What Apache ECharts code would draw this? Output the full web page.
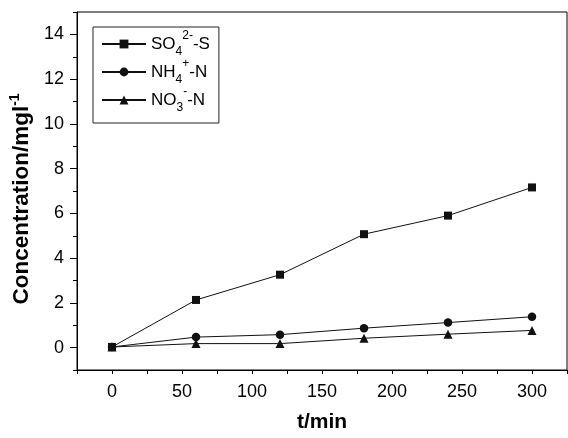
<!DOCTYPE html>
<html>
<head>
<meta charset="utf-8">
<script src="https://cdn.jsdelivr.net/npm/echarts@6/dist/echarts.min.js"></script>
<style>
  html, body { margin: 0; padding: 0; background: #fff; }
  #chart { width: 568px; height: 438px; }
</style>
</head>
<body>
<div id="chart"></div>
<script>
// sampling times (min)
const times = [0, 60, 120, 180, 240, 300];
// concentrations (mg/l)
const so4 = [0.03, 2.13, 3.26, 5.07, 5.90, 7.16];
const nh4 = [0.03, 0.47, 0.58, 0.87, 1.12, 1.38];
const no3 = [0.03, 0.18, 0.18, 0.42, 0.60, 0.77];

const yLabels = [0, 2, 4, 6, 8, 10, 12, 14];
const xLabels = [0, 50, 100, 150, 200, 250, 300];

const legendText = {
    SO4: '{m|SO}{sub|4}{sup|2-}{m|-S}',
    NH4: '{m|NH}{sub|4}{sup|+}{m|-N}',
    NO3: '{m|NO}{sub|3}{sup|-}{m|-N}'
};

const font = 'Liberation Sans, Arial, sans-serif';
const chart = echarts.init(document.getElementById('chart'));

function pairs(ys) {
    return times.map((t, i) => [t, ys[i]]);
}

function lineSeries(name, ys, symbol, size) {
    return {
        name: name,
        type: 'line',
        data: pairs(ys),
        symbol: symbol,
        symbolSize: size,
        itemStyle: { color: '#111' },
        lineStyle: { color: '#111', width: 1 },
        emphasis: { disabled: true },
        animation: false
    };
}

const option = {
    animation: false,
    textStyle: { fontFamily: font },
    grid: {
        left: 77, right: 1, top: 12, bottom: 61,
        show: true, borderColor: '#000', borderWidth: 1
    },
    legend: {
        left: 93, top: 27,
        orient: 'vertical',
        itemWidth: 44, itemHeight: 11, itemGap: 0,
        padding: [3, 9, 9, 8],
        borderColor: '#222', borderWidth: 1,
        formatter: name => legendText[name],
        textStyle: {
            color: '#000', fontSize: 17, fontFamily: font,
            rich: {
                m: { fontSize: 17, lineHeight: 28, fontFamily: font, color: '#000' },
                sub: { fontSize: 12, lineHeight: 12, verticalAlign: 'bottom', fontFamily: font, color: '#000' },
                sup: { fontSize: 12, lineHeight: 16, verticalAlign: 'top', fontFamily: font, color: '#000' }
            }
        },
        data: ['SO4', 'NH4', 'NO3']
    },
    xAxis: {
        type: 'value',
        min: -25, max: 325, interval: 25,
        name: 't/min',
        nameLocation: 'middle',
        nameGap: 42,
        nameTextStyle: { fontSize: 21, fontWeight: 'bold', color: '#000', fontFamily: font },
        axisLine: { onZero: false, lineStyle: { color: '#000', width: 1 } },
        axisTick: { length: 4, lineStyle: { color: '#000' } },
        axisLabel: {
            customValues: xLabels,
            fontSize: 18, color: '#000', margin: 13, fontFamily: font
        },
        splitLine: { show: false }
    },
    yAxis: [
        {
            type: 'value',
            position: 'left',
            min: -1, max: 15, interval: 1,
            name: '{b|Concentration/mgl}{s|-1}',
            nameLocation: 'middle',
            nameRotate: 90,
            nameGap: 42,
            nameTextStyle: {
                fontFamily: font,
                padding: [0, 16, 0, 0],
                rich: {
                    b: { fontSize: 22.5, fontWeight: 'bold', color: '#000', lineHeight: 26, fontFamily: font },
                    s: { fontSize: 14, fontWeight: 'bold', color: '#000', lineHeight: 16, verticalAlign: 'top', fontFamily: font }
                }
            },
            axisLine: { show: true, onZero: false, lineStyle: { color: '#000', width: 1 } },
            axisTick: { length: 4, lineStyle: { color: '#000' } },
            axisLabel: {
                customValues: yLabels,
                fontSize: 18, color: '#000', margin: 13, fontFamily: font
            },
            splitLine: { show: false }
        },
        {
            type: 'value',
            position: 'left',
            offset: 0,
            min: -1, max: 15,
            axisLine: { show: false, onZero: false },
            axisTick: { customValues: yLabels, length: 7, lineStyle: { color: '#000' } },
            axisLabel: { show: false },
            splitLine: { show: false }
        }
    ],
    series: [
        lineSeries('SO4', so4, 'rect', 8),
        lineSeries('NH4', nh4, 'circle', 8.5),
        lineSeries('NO3', no3, 'triangle', 9)
    ]
};

chart.setOption(option);
</script>
</body>
</html>
